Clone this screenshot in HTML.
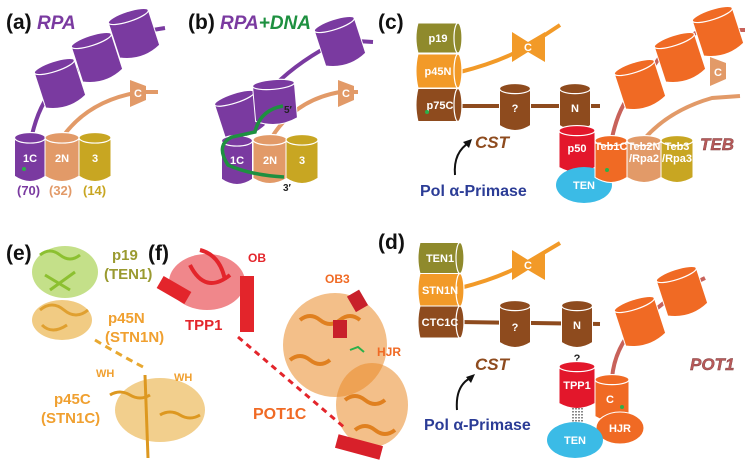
<!DOCTYPE html>
<html><head><meta charset="utf-8"><style>
html,body{margin:0;padding:0;background:#fff;}
svg{display:block;font-family:"Liberation Sans",sans-serif;}
.lb{font-size:21px;font-weight:bold;fill:#111;}
.w{fill:#fff;font-weight:bold;font-size:11px;text-anchor:middle;}
.it{font-weight:bold;font-style:italic;}
</style></head><body>
<svg width="754" height="469" viewBox="0 0 754 469">
<defs>
<g id="cy">
<path d="M-0.5,-0.4 L-0.5,0.4 Q0,0.62 0.5,0.4 L0.5,-0.4 Z" fill="currentColor" stroke="#fff" stroke-width="1" vector-effect="non-scaling-stroke"/>
<ellipse cx="0" cy="-0.4" rx="0.5" ry="0.11" fill="currentColor" stroke="#fff" stroke-width="1.2" vector-effect="non-scaling-stroke"/>
</g>
<g id="sd">
<path d="M-0.5,-0.5 Q-0.6,0 -0.5,0.5 L0.5,0.5 Q0.6,0 0.5,-0.5 Z" fill="currentColor" stroke="#fff" stroke-width="1" vector-effect="non-scaling-stroke"/>
<ellipse cx="0.5" cy="0" rx="0.1" ry="0.5" fill="currentColor" stroke="#fff" stroke-width="1.2" vector-effect="non-scaling-stroke"/>
</g>
</defs>

<!-- (a) -->
<text x="6" y="29" class="lb">(a)</text>
<text x="37" y="29" class="it" font-size="19" fill="#7a3aa0">RPA</text>
<path d="M32,135 Q40,100 60,82 L97,57 L134,33 L165,28" fill="none" stroke="#7a3aa0" stroke-width="4"/>
<path d="M64,135 Q90,100 140,92 L158,92" fill="none" stroke="#e29a68" stroke-width="4"/>
<path d="M130,80 L146,86 L146,100 L130,107 Z" fill="#e29a68"/>
<text x="138" y="97" class="w" font-size="9">C</text>
<use href="#cy" color="#7a3aa0" transform="translate(60,84) rotate(-18) scale(42,46)"/>
<use href="#cy" color="#7a3aa0" transform="translate(97,58) rotate(-18) scale(42,46)"/>
<use href="#cy" color="#7a3aa0" transform="translate(134,34) rotate(-18) scale(42,46)"/>
<use href="#cy" color="#7a3aa0" transform="translate(30,157) scale(31,48)"/>
<use href="#cy" color="#e29a68" transform="translate(62,157) scale(34,48)"/>
<use href="#cy" color="#c8a622" transform="translate(95,157) scale(32,48)"/>
<text x="30" y="162" class="w">1C</text><text x="62" y="162" class="w">2N</text><text x="95" y="162" class="w">3</text>
<circle cx="24" cy="169" r="2" fill="#2bb04a"/>
<text x="17" y="195" font-size="13" font-weight="bold" fill="#7a3aa0">(70)</text>
<text x="49" y="195" font-size="13" font-weight="bold" fill="#e29a68">(32)</text>
<text x="83" y="195" font-size="13" font-weight="bold" fill="#c8a622">(14)</text>

<!-- (b) -->
<text x="188" y="29" class="lb">(b)</text>
<text x="220" y="29" class="it" font-size="19" fill="#7a3aa0">RPA<tspan fill="#1e9040">+DNA</tspan></text>
<path d="M275,85 Q300,60 340,40 L373,42" fill="none" stroke="#7a3aa0" stroke-width="4"/>
<path d="M272,137 Q295,100 340,92 L358,92" fill="none" stroke="#e29a68" stroke-width="4"/>
<path d="M338,80 L354,86 L354,100 L338,107 Z" fill="#e29a68"/>
<text x="346" y="97" class="w" font-size="9">C</text>
<use href="#cy" color="#7a3aa0" transform="translate(340,42) rotate(-18) scale(42,46)"/>
<use href="#cy" color="#7a3aa0" transform="translate(240,115) rotate(-18) scale(42,44)"/>
<use href="#cy" color="#7a3aa0" transform="translate(275,102) rotate(-5) scale(42,44)"/>
<use href="#cy" color="#7a3aa0" transform="translate(237,160) scale(31,48)"/>
<use href="#cy" color="#e29a68" transform="translate(270,159) scale(34,48)"/>
<use href="#cy" color="#c8a622" transform="translate(302,159) scale(32,48)"/>
<text x="237" y="164" class="w">1C</text><text x="270" y="164" class="w">2N</text><text x="302" y="164" class="w">3</text>
<path d="M283,106 Q260,110 255,132 L232,137 Q215,145 228,165 Q250,175 284,177" fill="none" stroke="#1e9040" stroke-width="3.5"/>
<text x="284" y="113" font-size="10" font-weight="bold" fill="#222">5′</text>
<text x="283" y="191" font-size="10" font-weight="bold" fill="#222">3′</text>

<!-- (c) -->
<text x="378" y="29" class="lb">(c)</text>
<path d="M460,72 Q500,62 528,46 L560,25" fill="none" stroke="#f29a28" stroke-width="4"/>
<path d="M512,32 L528,42 L545,32 L545,62 L528,52 L512,62 Z" fill="#f29a28"/>
<text x="528" y="51" class="w" font-size="9">C</text>
<path d="M460,106 L600,106" stroke="#8e4b1e" stroke-width="4"/>
<use href="#sd" color="#8f8a2c" transform="translate(438,38) scale(40,30)"/>
<use href="#sd" color="#f29a28" transform="translate(438,71) scale(40,34)"/>
<use href="#sd" color="#8e4b1e" transform="translate(438,105) scale(40,33)"/>
<text x="438" y="42" class="w">p19</text><text x="438" y="75" class="w">p45N</text><text x="440" y="109" class="w">p75C</text>
<circle cx="427" cy="112" r="2" fill="#2bb04a"/>
<use href="#cy" color="#8e4b1e" transform="translate(515,107) scale(31,46)"/>
<use href="#cy" color="#8e4b1e" transform="translate(575,107) scale(31,46)"/>
<text x="515" y="112" class="w">?</text><text x="575" y="112" class="w">N</text>
<path d="M612,138 Q620,100 640,85 L660,57 L700,30 L745,30" fill="none" stroke="#c8625a" stroke-width="4"/>
<path d="M645,138 Q670,110 712,98 L740,96" fill="none" stroke="#e29a68" stroke-width="4"/>
<path d="M710,57 L726,63 L726,79 L710,86 Z" fill="#e29a68"/>
<text x="718" y="76" class="w" font-size="9">C</text>
<use href="#cy" color="#f06a24" transform="translate(640,85) rotate(-18) scale(42,46)"/>
<use href="#cy" color="#f06a24" transform="translate(680,58) rotate(-18) scale(42,46)"/>
<use href="#cy" color="#f06a24" transform="translate(718,32) rotate(-18) scale(42,46)"/>
<use href="#cy" color="#e3172b" transform="translate(577,149) scale(36,46)"/>
<text x="577" y="152" class="w">p50</text>
<ellipse cx="584" cy="185" rx="28" ry="18" fill="#3bbbe6"/>
<text x="584" y="189" class="w">TEN</text>
<use href="#cy" color="#f06a24" transform="translate(611,159) scale(32,46)"/>
<use href="#cy" color="#e29a68" transform="translate(644,159) scale(34,46)"/>
<use href="#cy" color="#c8a622" transform="translate(677,159) scale(32,46)"/>
<text x="611" y="150" class="w" font-size="9">Teb1C</text>
<text x="644" y="150" class="w" font-size="9">Teb2N</text><text x="644" y="162" class="w" font-size="9">/Rpa2</text>
<text x="677" y="150" class="w" font-size="9">Teb3</text><text x="677" y="162" class="w" font-size="9">/Rpa3</text>
<circle cx="607" cy="170" r="2" fill="#2bb04a"/>
<text x="475" y="148" class="it" font-size="17" fill="#8e4b1e">CST</text>
<text x="700" y="150" class="it" font-size="17" fill="#b85a5a" stroke="#7a3a3a" stroke-width="0.4">TEB</text>
<path d="M455,175 Q453,152 470,142" fill="none" stroke="#111" stroke-width="2"/>
<path d="M472,139 L463,142 L469,148 Z" fill="#111"/>
<text x="420" y="196" font-size="16" font-weight="bold" fill="#2b3c96">Pol α-Primase</text>

<!-- (d) -->
<text x="378" y="249" class="lb">(d)</text>
<path d="M460,288 Q500,278 528,262 L560,243" fill="none" stroke="#f29a28" stroke-width="4"/>
<path d="M512,250 L528,260 L545,250 L545,280 L528,270 L512,280 Z" fill="#f29a28"/>
<text x="528" y="269" class="w" font-size="9">C</text>
<path d="M460,322 L600,324" stroke="#8e4b1e" stroke-width="4"/>
<use href="#sd" color="#8f8a2c" transform="translate(440,258) scale(40,31)"/>
<use href="#sd" color="#f29a28" transform="translate(440,290) scale(40,33)"/>
<use href="#sd" color="#8e4b1e" transform="translate(440,322) scale(40,32)"/>
<text x="440" y="262" class="w">TEN1</text><text x="440" y="294" class="w">STN1N</text><text x="440" y="326" class="w">CTC1C</text>
<use href="#cy" color="#8e4b1e" transform="translate(515,324) scale(31,46)"/>
<use href="#cy" color="#8e4b1e" transform="translate(577,324) scale(31,46)"/>
<text x="515" y="331" class="w">?</text><text x="577" y="329" class="w">N</text>
<text x="577" y="362" font-size="11" font-weight="bold" fill="#222" text-anchor="middle">?</text>
<path d="M612,378 Q615,345 640,322 L680,290 L705,278" fill="none" stroke="#c8625a" stroke-width="4"/>
<use href="#cy" color="#f06a24" transform="translate(640,322) rotate(-18) scale(42,46)"/>
<use href="#cy" color="#f06a24" transform="translate(682,292) rotate(-18) scale(42,46)"/>
<use href="#cy" color="#e3172b" transform="translate(577,385) scale(36,46)"/>
<text x="577" y="389" class="w">TPP1</text>
<g stroke="#111" stroke-width="1" stroke-dasharray="1.5,1.5"><line x1="573" y1="408" x2="573" y2="422"/><line x1="576" y1="408" x2="576" y2="422"/><line x1="579" y1="408" x2="579" y2="422"/><line x1="582" y1="408" x2="582" y2="422"/></g>
<use href="#cy" color="#f06a24" transform="translate(612,398) scale(34,46)"/>
<text x="610" y="403" class="w">C</text>
<circle cx="622" cy="407" r="2" fill="#2bb04a"/>
<ellipse cx="620" cy="428" rx="24" ry="16" fill="#f06a24" stroke="#fff" stroke-width="1"/>
<text x="620" y="432" class="w">HJR</text>
<ellipse cx="575" cy="440" rx="28" ry="18" fill="#3bbbe6"/>
<text x="575" y="444" class="w">TEN</text>
<text x="475" y="370" class="it" font-size="17" fill="#8e4b1e">CST</text>
<text x="690" y="370" class="it" font-size="17" fill="#b85a5a" stroke="#7a3a3a" stroke-width="0.4">POT1</text>
<path d="M457,410 Q455,385 472,377" fill="none" stroke="#111" stroke-width="2"/>
<path d="M475,374 L466,377 L471,383 Z" fill="#111"/>
<text x="424" y="430" font-size="16" font-weight="bold" fill="#2b3c96">Pol α-Primase</text>

<!-- (e) -->
<ellipse cx="65" cy="272" rx="33" ry="26" fill="#9ccc3a" opacity="0.6"/>
<g fill="none" stroke="#8cc030" stroke-width="3"><path d="M40,255 q10,-8 20,0 t20,0"/><path d="M45,275 l25,15 M50,290 l25,-18"/></g>
<ellipse cx="62" cy="320" rx="30" ry="20" fill="#e8a830" opacity="0.6"/>
<g fill="none" stroke="#e0a030" stroke-width="3"><path d="M40,310 q12,-10 24,0 t24,0"/><path d="M42,325 q10,10 25,0"/></g>
<text x="6" y="260" class="lb">(e)</text>
<path d="M95,340 Q120,355 145,368" fill="none" stroke="#e8a830" stroke-width="3" stroke-dasharray="7,5"/>
<ellipse cx="160" cy="410" rx="45" ry="32" fill="#e8a830" opacity="0.55"/>
<g fill="none" stroke="#dd9820" stroke-width="3"><path d="M145,375 L148,458"/><path d="M110,395 q10,-6 20,0 t20,0"/><path d="M160,415 q10,-6 20,0 t20,0"/></g>
<text x="112" y="260" font-size="15" font-weight="bold" fill="#9a9a30">p19</text>
<text x="104" y="279" font-size="15" font-weight="bold" fill="#9a9a30">(TEN1)</text>
<text x="108" y="323" font-size="15" font-weight="bold" fill="#f0a030">p45N</text>
<text x="105" y="342" font-size="15" font-weight="bold" fill="#f0a030">(STN1N)</text>
<text x="96" y="377" font-size="11" font-weight="bold" fill="#f0a030">WH</text>
<text x="174" y="381" font-size="11" font-weight="bold" fill="#f0a030">WH</text>
<text x="54" y="404" font-size="15" font-weight="bold" fill="#f0a030">p45C</text>
<text x="41" y="423" font-size="15" font-weight="bold" fill="#f0a030">(STN1C)</text>

<!-- (f) -->
<text x="148" y="260" class="lb">(f)</text>
<ellipse cx="207" cy="282" rx="38" ry="28" fill="#e3252b" opacity="0.55"/>
<g fill="none" stroke="#e3252b" stroke-width="4"><path d="M190,265 q15,30 40,10"/><path d="M200,250 q20,5 25,30"/></g>
<rect x="158" y="283" width="32" height="14" fill="#e3252b" transform="rotate(30 174 290)"/>
<rect x="240" y="276" width="14" height="56" fill="#e3252b"/>
<text x="248" y="262" font-size="12" font-weight="bold" fill="#e3252b">OB</text>
<text x="185" y="330" font-size="15" font-weight="bold" fill="#e3252b">TPP1</text>
<ellipse cx="335" cy="345" rx="52" ry="52" fill="#e98a28" opacity="0.55"/>
<ellipse cx="372" cy="405" rx="36" ry="42" fill="#e98a28" opacity="0.55"/>
<g fill="none" stroke="#e08020" stroke-width="4"><path d="M300,320 q10,-8 20,0 t20,0 t20,0"/><path d="M290,360 q10,-8 20,0 t20,0"/><path d="M345,400 q10,-8 20,0 t20,0"/><path d="M355,430 q10,-8 20,0 t20,0"/></g>
<rect x="350" y="292" width="14" height="18" fill="#c8202a" transform="rotate(-30 357 300)"/>
<rect x="333" y="320" width="14" height="18" fill="#c8202a"/>
<rect x="336" y="440" width="46" height="14" fill="#d8202a" transform="rotate(15 359 447)"/>
<path d="M350,350 l8,-3 l6,5" stroke="#2bb04a" stroke-width="2" fill="none"/>
<line x1="238" y1="337" x2="345" y2="428" stroke="#e3252b" stroke-width="3" stroke-dasharray="6,5"/>
<text x="325" y="283" font-size="12" font-weight="bold" fill="#f06a24">OB3</text>
<text x="377" y="356" font-size="12" font-weight="bold" fill="#f06a24">HJR</text>
<text x="253" y="419" font-size="16" font-weight="bold" fill="#f06a24">POT1C</text>
</svg>
</body></html>
